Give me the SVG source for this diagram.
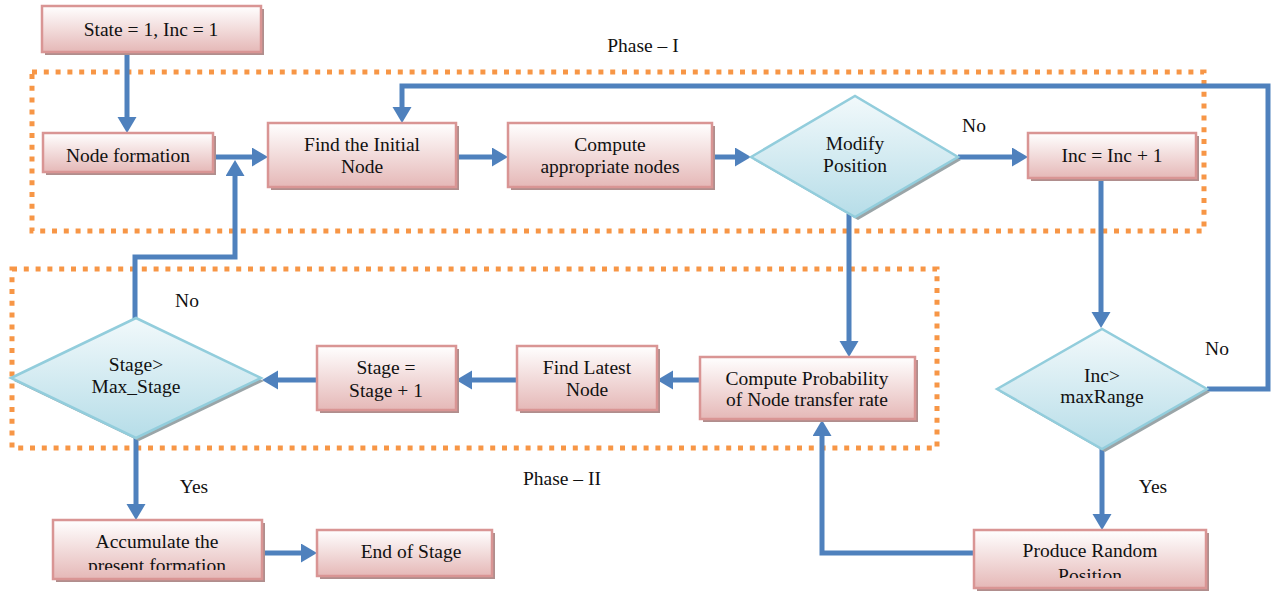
<svg xmlns="http://www.w3.org/2000/svg" width="1271" height="592" viewBox="0 0 1271 592">
<style>
  .box { fill: url(#boxGrad); stroke: #d99594; stroke-width: 2.5; }
  .shadow { fill: #b08e8d; }
  .dia { fill: url(#diaGrad); stroke: #92cddc; stroke-width: 2.5; }
  .dshadow { fill: #9aa5a8; }
  .t { font-family: "Liberation Serif", "Times New Roman", serif; font-size: 19.5px; fill: #111; text-anchor: middle; }
  .conn { fill: none; stroke: #4f81bd; stroke-width: 5; stroke-linejoin: miter; marker-end: url(#arrow); }
  .phase { fill: none; stroke: #f79646; stroke-width: 5; stroke-dasharray: 5 6.8; }
</style>
<defs>
  <linearGradient id="boxGrad" x1="0" y1="0" x2="0" y2="1">
    <stop offset="0" stop-color="#ffffff"/>
    <stop offset="1" stop-color="#e5b8b7"/>
  </linearGradient>
  <linearGradient id="diaGrad" x1="0" y1="0" x2="0" y2="1">
    <stop offset="0" stop-color="#f2f9fb"/>
    <stop offset="1" stop-color="#b6dde8"/>
  </linearGradient>
  <marker id="arrow" markerUnits="userSpaceOnUse" markerWidth="16" markerHeight="20" refX="6" refY="9.5" orient="auto">
    <path d="M0,0 L16,9.5 L0,19 z" fill="#4f81bd"/>
  </marker>
  <clipPath id="clipAccum"><rect x="53" y="520" width="209" height="50"/></clipPath>
  <clipPath id="clipProduce"><rect x="974" y="530" width="232" height="48"/></clipPath>
</defs>
<rect width="1271" height="592" fill="#ffffff"/>

<g id="phase1">
  <rect class="phase" x="32" y="72" width="1172" height="159"/>
  <text class="t" x="643" y="52">Phase – I</text>
</g>
<g id="phase2">
  <rect class="phase" x="12" y="269" width="925" height="179"/>
  <text class="t" x="562" y="485">Phase – II</text>
</g>

<g id="connectors">
  <path class="conn" d="M127,52 V123"/>
  <path class="conn" d="M213,157 H258"/>
  <path class="conn" d="M456,157 H498"/>
  <path class="conn" d="M712,157 H741"/>
  <path class="conn" d="M958,157 H1018"/>
  <path class="conn" d="M1101,178 V318"/>
  <path class="conn" d="M1207,389 H1268 V86 H402 V113"/>
  <path class="conn" d="M1102,448 V520"/>
  <path class="conn" d="M974,553 H822 V430"/>
  <path class="conn" d="M849,214 V347"/>
  <path class="conn" d="M700,380 H667"/>
  <path class="conn" d="M517,380 H466"/>
  <path class="conn" d="M317,380 H272"/>
  <path class="conn" d="M136,438 V510"/>
  <path class="conn" d="M135,319 V257 H235 V170"/>
  <path class="conn" d="M262,553 H307"/>
  <text class="t" x="974" y="132">No</text>
  <text class="t" x="1217" y="355">No</text>
  <text class="t" x="1153" y="493">Yes</text>
  <text class="t" x="187" y="307">No</text>
  <text class="t" x="194" y="493">Yes</text>
</g>

<g id="n-start">
  <rect class="shadow" x="45" y="9" width="219" height="46"/>
  <rect class="box" x="42" y="6" width="219" height="46"/>
  <text class="t" x="151" y="36">State = 1, Inc = 1</text>
</g>
<g id="n-nodeformation">
  <rect class="shadow" x="46" y="136" width="170" height="39"/>
  <rect class="box" x="43" y="133" width="170" height="39"/>
  <text class="t" x="128" y="162">Node formation</text>
</g>
<g id="n-findinitial">
  <rect class="shadow" x="271" y="126" width="188" height="64"/>
  <rect class="box" x="268" y="123" width="188" height="64"/>
  <text class="t" x="362" y="151">Find the Initial</text>
  <text class="t" x="362" y="173">Node</text>
</g>
<g id="n-compute">
  <rect class="shadow" x="511" y="126" width="204" height="64"/>
  <rect class="box" x="508" y="123" width="204" height="64"/>
  <text class="t" x="610" y="151">Compute</text>
  <text class="t" x="610" y="173">appropriate nodes</text>
</g>
<g id="n-modify">
  <polygon class="dshadow" points="754,160 858,99 961,160 858,220"/>
  <polygon class="dia" points="751,157 855,96 958,157 855,217"/>
  <text class="t" x="855" y="150">Modify</text>
  <text class="t" x="855" y="172">Position</text>
</g>
<g id="n-inc">
  <rect class="shadow" x="1031" y="136" width="168" height="45"/>
  <rect class="box" x="1028" y="133" width="168" height="45"/>
  <text class="t" x="1112" y="162">Inc = Inc + 1</text>
</g>
<g id="n-incmax">
  <polygon class="dshadow" points="1000,392 1105,332 1210,392 1105,452"/>
  <polygon class="dia" points="997,389 1102,329 1207,389 1102,449"/>
  <text class="t" x="1102" y="382">Inc&gt;</text>
  <text class="t" x="1102" y="403">maxRange</text>
</g>
<g id="n-produce">
  <rect class="shadow" x="977" y="533" width="232" height="58"/>
  <rect class="box" x="974" y="530" width="232" height="58"/>
  <g clip-path="url(#clipProduce)">
    <text class="t" x="1090" y="557">Produce Random</text>
    <text class="t" x="1090" y="582">Position</text>
  </g>
</g>
<g id="n-computeprob">
  <rect class="shadow" x="703" y="360" width="215" height="62"/>
  <rect class="box" x="700" y="357" width="215" height="62"/>
  <text class="t" x="807" y="385">Compute Probability</text>
  <text class="t" x="807" y="406">of Node transfer rate</text>
</g>
<g id="n-findlatest">
  <rect class="shadow" x="520" y="349" width="140" height="64"/>
  <rect class="box" x="517" y="346" width="140" height="64"/>
  <text class="t" x="587" y="374">Find Latest</text>
  <text class="t" x="587" y="396">Node</text>
</g>
<g id="n-stageinc">
  <rect class="shadow" x="320" y="349" width="139" height="64"/>
  <rect class="box" x="317" y="346" width="139" height="64"/>
  <text class="t" x="386" y="374">Stage =</text>
  <text class="t" x="386" y="397">Stage + 1</text>
</g>
<g id="n-stagemax">
  <polygon class="dshadow" points="14,381 139,321 264,381 139,441"/>
  <polygon class="dia" points="11,378 136,318 261,378 136,438"/>
  <text class="t" x="136" y="371">Stage&gt;</text>
  <text class="t" x="136" y="393">Max_Stage</text>
</g>
<g id="n-accumulate">
  <rect class="shadow" x="56" y="523" width="209" height="59"/>
  <rect class="box" x="53" y="520" width="209" height="59"/>
  <g clip-path="url(#clipAccum)">
    <text class="t" x="157" y="548">Accumulate the</text>
    <text class="t" x="157" y="572">present formation</text>
  </g>
</g>
<g id="n-end">
  <rect class="shadow" x="320" y="533" width="175" height="46"/>
  <rect class="box" x="317" y="530" width="175" height="46"/>
  <text class="t" x="411" y="558">End of Stage</text>
</g>
</svg>
